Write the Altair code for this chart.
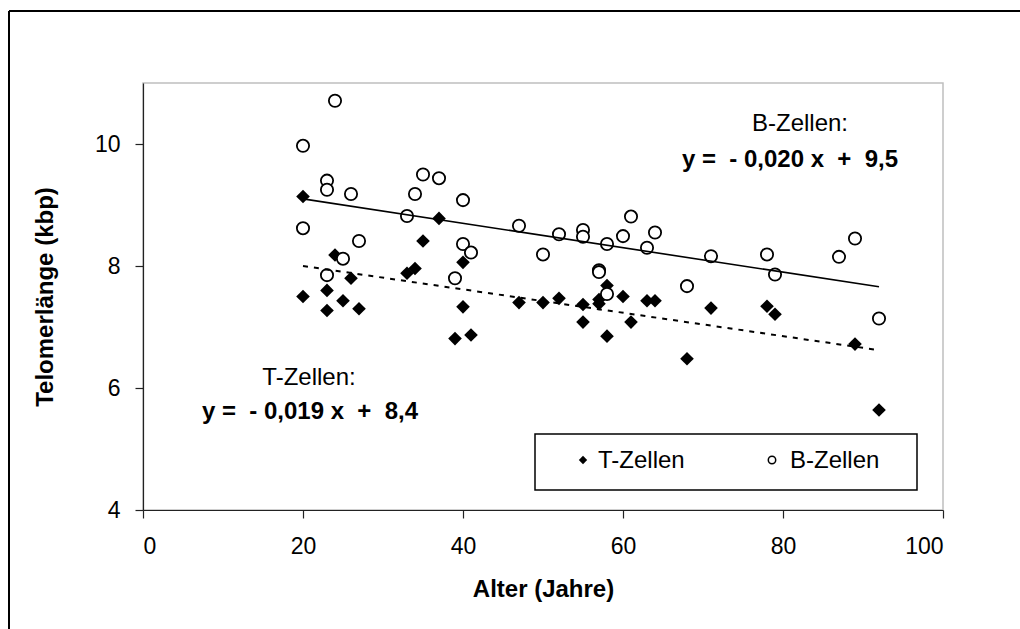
import altair as alt
import pandas as pd

# ---- data ----
t_age = [20, 20, 23, 23, 24, 25, 26, 27, 33, 34, 35, 37, 39, 40, 40, 41, 47, 50, 52,
         55, 55, 57, 57, 58, 58, 60, 61, 63, 64, 68, 71, 78, 79, 89, 92]
t_val = [9.14, 7.50, 7.60, 7.27, 8.18, 7.43, 7.80, 7.30, 7.88, 7.96, 8.41, 8.78, 6.81, 8.06, 7.33, 6.87, 7.40, 7.40, 7.47,
         7.37, 7.08, 7.45, 7.38, 7.68, 6.85, 7.50, 7.08, 7.43, 7.43, 6.48, 7.31, 7.34, 7.21, 6.72, 5.64]

b_age = [20, 20, 23, 23, 23, 24, 25, 26, 27, 33, 34, 35, 37, 39, 40, 40, 41, 47, 50, 52,
         55, 55, 57, 57, 58, 58, 60, 61, 63, 64, 68, 71, 78, 79, 87, 89, 92]
b_val = [9.97, 8.62, 9.40, 9.25, 7.85, 10.71, 8.12, 9.18, 8.41, 8.82, 9.18, 9.50, 9.44, 7.80, 9.08, 8.36, 8.22, 8.66, 8.19, 8.52,
         8.59, 8.48, 7.93, 7.90, 8.36, 7.54, 8.49, 8.81, 8.30, 8.55, 7.67, 8.16, 8.19, 7.86, 8.15, 8.45, 7.14]

trend_age = [20, 92]
b_trend = [9.10, 7.66]
t_trend = [8.00, 6.62]

x_ticks = [0, 20, 40, 60, 80, 100]
y_ticks = [4, 6, 8, 10]
legend_labels = ["T-Zellen", "B-Zellen"]
t_label = "T-Zellen:"
b_label = "B-Zellen:"
t_eq = "y =\u00a0 - 0,019 x\u00a0 +\u00a0 8,4"
b_eq = "y =\u00a0 - 0,020 x\u00a0 +\u00a0 9,5"

FONT = "Liberation Sans"

df_t = pd.DataFrame({"Alter": t_age, "Wert": t_val})
df_b = pd.DataFrame({"Alter": b_age, "Wert": b_val})
df_trend = pd.DataFrame({"Alter": trend_age, "B": b_trend, "T": t_trend})
one = pd.DataFrame({"a": [0]})

x_scale = alt.Scale(domain=[0, 100], nice=False, zero=False)
y_scale = alt.Scale(domain=[4, 11], nice=False, zero=False)

x_enc = alt.X("Alter:Q", scale=x_scale,
              axis=alt.Axis(title="Alter (Jahre)", values=x_ticks, format="d",
                            titleX=400, titleY=79, titleBaseline="middle"))
y_enc = alt.Y("Wert:Q", scale=y_scale,
              axis=alt.Axis(title="Telomerlänge (kbp)", values=y_ticks, format="d",
                            titleX=-98, titleY=213.5, titleBaseline="middle", titleAngle=-90))

# outer frame (top and left edges visible)
frame_top = alt.Chart(one).mark_rule(color="black", strokeWidth=2).encode(
    x=alt.value(-134), x2=alt.value(900), y=alt.value(-72))
frame_left = alt.Chart(one).mark_rule(color="black", strokeWidth=2).encode(
    x=alt.value(-134), y=alt.value(-72), y2=alt.value(560))

t_pts = alt.Chart(df_t).mark_point(shape="diamond", filled=True, fill="black",
                                   size=185, opacity=1, strokeWidth=0).encode(x=x_enc, y=y_enc)
b_pts = alt.Chart(df_b).mark_point(shape="circle", filled=True, fill="white", stroke="black",
                                   strokeWidth=1.8, size=150, opacity=1).encode(x=x_enc, y=y_enc)

b_line = alt.Chart(df_trend).mark_line(color="black", strokeWidth=1.6).encode(
    x=alt.X("Alter:Q", scale=x_scale), y=alt.Y("B:Q", scale=y_scale))
t_line = alt.Chart(df_trend).mark_line(color="black", strokeWidth=2, strokeDash=[5, 6]).encode(
    x=alt.X("Alter:Q", scale=x_scale), y=alt.Y("T:Q", scale=y_scale))

# legend box
leg_box = alt.Chart(one).mark_rect(fill="white", stroke="black", strokeWidth=1.5).encode(
    x=alt.value(392), x2=alt.value(774), y=alt.value(351), y2=alt.value(407))
leg_t_sym = alt.Chart(one).mark_point(shape="diamond", filled=True, fill="black", size=70,
                                      opacity=1, strokeWidth=0).encode(x=alt.value(440), y=alt.value(377))
leg_b_sym = alt.Chart(one).mark_point(shape="circle", filled=True, fill="white", stroke="black",
                                      strokeWidth=1.5, size=55, opacity=1).encode(x=alt.value(629), y=alt.value(377))
leg_t_txt = alt.Chart(one).mark_text(text=legend_labels[0], font=FONT, fontSize=24, align="left",
                                     baseline="middle").encode(x=alt.value(455), y=alt.value(378))
leg_b_txt = alt.Chart(one).mark_text(text=legend_labels[1], font=FONT, fontSize=24, align="left",
                                     baseline="middle").encode(x=alt.value(647), y=alt.value(378))

# annotations
t_lab = alt.Chart(one).mark_text(text=t_label, font=FONT, fontSize=24, align="center",
                                 baseline="alphabetic").encode(x=alt.value(166), y=alt.value(302))
t_eqn = alt.Chart(one).mark_text(text=t_eq, font=FONT, fontSize=24, fontWeight="bold", align="center",
                                 baseline="alphabetic").encode(x=alt.value(167), y=alt.value(336))
b_lab = alt.Chart(one).mark_text(text=b_label, font=FONT, fontSize=24, align="center",
                                 baseline="alphabetic").encode(x=alt.value(657), y=alt.value(48))
b_eqn = alt.Chart(one).mark_text(text=b_eq, font=FONT, fontSize=24, fontWeight="bold", align="center",
                                 baseline="alphabetic").encode(x=alt.value(647), y=alt.value(84))

chart = alt.layer(
    frame_top, frame_left, t_pts, b_pts, b_line, t_line,
    leg_box, leg_t_sym, leg_b_sym, leg_t_txt, leg_b_txt,
    t_lab, t_eqn, b_lab, b_eqn,
).properties(
    width=800, height=427,
    autosize=alt.AutoSizeParams(type="none"),
    padding={"left": 143, "top": 83, "right": 77, "bottom": 119},
    background="white",
).configure_view(
    stroke="#BFBFBF", strokeWidth=1.5
).configure_axis(
    grid=False, domainColor="#222222", domainWidth=1.2,
    tickColor="#222222", tickWidth=1.2, tickSize=8,
    labelFont=FONT, labelFontSize=23, labelColor="black",
    titleFont=FONT, titleFontSize=24, titleFontWeight="bold", titleColor="black",
).configure_axisX(
    labelPadding=17
).configure_axisY(
    labelPadding=15
)

chart.save("out.html", embed_options={"renderer": "svg", "actions": False})
